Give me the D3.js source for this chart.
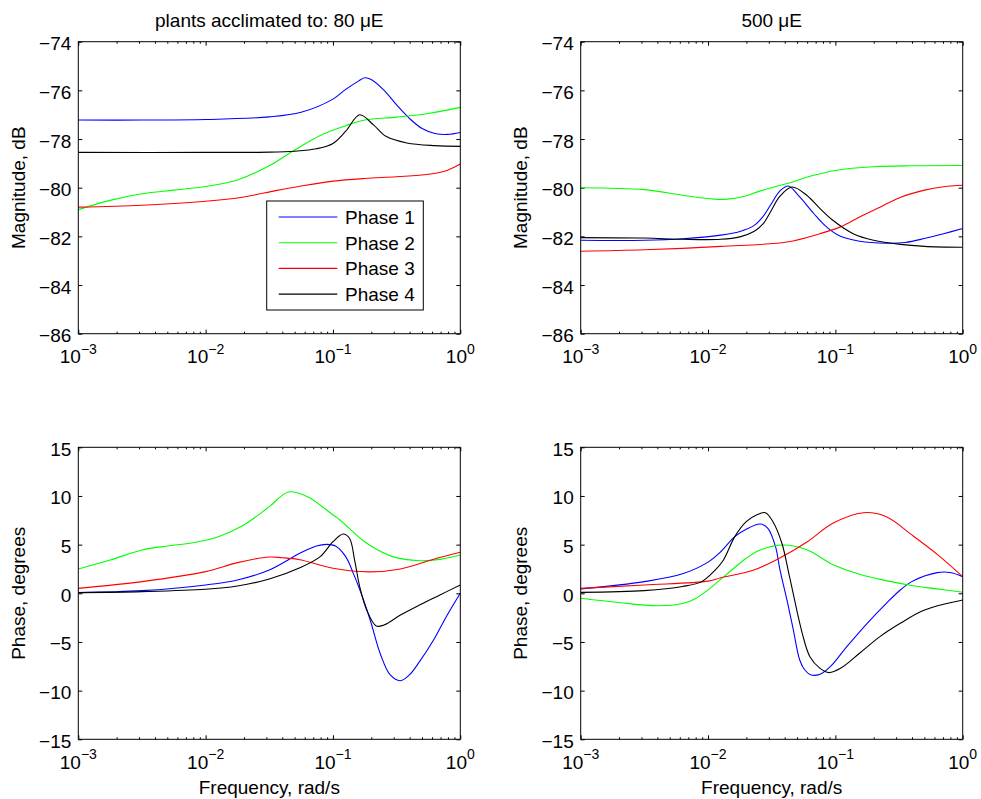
<!DOCTYPE html>
<html>
<head>
<meta charset="utf-8">
<script src="https://cdn.jsdelivr.net/npm/d3@7"></script>
<style>
  body { margin: 0; background: #fff; }
  text { font-family: "Liberation Sans", Arial, Helvetica, sans-serif; fill: #000; }
</style>
</head>
<body>
<script>
// Bode plots, two acclimation levels x four phases
// each point is [log10(frequency in rad/s), value]

var seriesNames = ["Phase 1", "Phase 2", "Phase 3", "Phase 4"];
var seriesColors = ["#0000ff", "#00ff00", "#ff0000", "#000000"];

var decadeExps = [-3, -2, -1, 0];
var magTicks = [-86, -84, -82, -80, -78, -76, -74];
var phaseTicks = [-15, -10, -5, 0, 5, 10, 15];

// magnitude, dB - 80 uE
var mag80P1 = [[-3,-77.22],[-2.5,-77.22],[-2,-77.2],[-1.5,-77.09],[-1.25,-76.9],[-1,-76.36],[-0.9,-75.96],[-0.8,-75.62],[-0.75,-75.48],[-0.7,-75.55],[-0.6,-75.99],[-0.5,-76.6],[-0.4,-77.15],[-0.3,-77.57],[-0.2,-77.77],[-0.1,-77.81],[0,-77.73]];
var mag80P2 = [[-3,-80.9],[-2.75,-80.52],[-2.5,-80.25],[-2.25,-80.1],[-2,-79.95],[-1.75,-79.68],[-1.5,-79.1],[-1.3,-78.45],[-1.1,-77.85],[-0.9,-77.45],[-0.75,-77.22],[-0.5,-77.1],[-0.25,-76.95],[0,-76.7]];
var mag80P3 = [[-3,-80.8],[-2.5,-80.72],[-2,-80.56],[-1.7,-80.38],[-1.45,-80.12],[-1.25,-79.93],[-1,-79.73],[-0.75,-79.62],[-0.5,-79.55],[-0.25,-79.45],[-0.1,-79.28],[0,-79.03]];
var mag80P4 = [[-3,-78.55],[-2,-78.55],[-1.5,-78.54],[-1.3,-78.5],[-1.13,-78.4],[-1,-78.18],[-0.9,-77.68],[-0.79,-77.0],[-0.68,-77.43],[-0.58,-77.9],[-0.42,-78.16],[-0.2,-78.27],[0,-78.3]];

// magnitude, dB - 500 uE
var mag500P1 = [[-3,-82.16],[-2.5,-82.16],[-2.2,-82.1],[-1.9,-81.95],[-1.75,-81.8],[-1.64,-81.56],[-1.57,-81.2],[-1.51,-80.72],[-1.435,-80.13],[-1.37,-79.93],[-1.28,-80.38],[-1.17,-81.06],[-1.07,-81.61],[-0.96,-82.0],[-0.81,-82.2],[-0.6,-82.28],[-0.45,-82.25],[-0.3,-82.09],[-0.15,-81.89],[0,-81.68]];
var mag500P2 = [[-3,-80.0],[-2.5,-80.08],[-2.2,-80.31],[-1.95,-80.47],[-1.85,-80.47],[-1.72,-80.36],[-1.6,-80.15],[-1.38,-79.83],[-1.17,-79.49],[-0.99,-79.28],[-0.7,-79.14],[-0.4,-79.1],[0,-79.09]];
var mag500P3 = [[-3,-82.61],[-2.5,-82.55],[-1.9,-82.41],[-1.38,-82.23],[-1.12,-81.89],[-0.96,-81.61],[-0.81,-81.2],[-0.65,-80.8],[-0.49,-80.4],[-0.3,-80.1],[-0.15,-79.96],[0,-79.9]];
var mag500P4 = [[-3,-82.05],[-2.5,-82.07],[-2.2,-82.12],[-1.9,-82.12],[-1.75,-82.02],[-1.64,-81.8],[-1.57,-81.5],[-1.51,-81.0],[-1.435,-80.35],[-1.34,-79.97],[-1.225,-80.31],[-1.12,-80.86],[-1.02,-81.34],[-0.86,-81.89],[-0.7,-82.16],[-0.49,-82.33],[-0.3,-82.41],[0,-82.45]];

// phase, degrees - 80 uE
var ph80P1 = [[-3,0.07],[-2.5,0.27],[-2,0.86],[-1.75,1.37],[-1.5,2.4],[-1.26,4.11],[-1.13,4.86],[-1.05,5.03],[-0.98,4.86],[-0.9,3.77],[-0.84,2.05],[-0.76,-0.69],[-0.7,-3.08],[-0.63,-6.16],[-0.55,-8.39],[-0.47,-8.98],[-0.4,-8.39],[-0.32,-7.02],[-0.21,-4.8],[-0.11,-2.4],[0,0]];
var ph80P2 = [[-3,2.5],[-2.75,3.42],[-2.5,4.45],[-2.3,4.86],[-2.1,5.2],[-1.9,5.82],[-1.7,7.02],[-1.5,8.9],[-1.35,10.41],[-1.2,9.93],[-1,8.05],[-0.945,7.53],[-0.735,5.14],[-0.53,3.77],[-0.32,3.35],[-0.16,3.49],[0,3.94]];
var ph80P3 = [[-3,0.51],[-2.5,1.2],[-2,2.23],[-1.75,3.15],[-1.5,3.73],[-1.4,3.66],[-1.26,3.45],[-1,2.57],[-0.72,2.2],[-0.47,2.5],[-0.21,3.49],[0,4.21]];
var ph80P4 = [[-3,0.07],[-2.5,0.17],[-2,0.41],[-1.75,0.75],[-1.5,1.47],[-1.26,2.63],[-1.1,3.77],[-1,5.3],[-0.92,6.09],[-0.87,5.65],[-0.83,3.42],[-0.79,0.69],[-0.735,-1.71],[-0.66,-3.36],[-0.6,-3.26],[-0.47,-2.23],[-0.32,-1.2],[-0.16,-0.17],[0,0.86]];

// phase, degrees - 500 uE
var ph500P1 = [[-3,0.45],[-2.5,1.2],[-2.2,2.0],[-2,3.2],[-1.9,4.27],[-1.79,5.82],[-1.7,6.58],[-1.59,7.12],[-1.53,6.68],[-1.47,4.79],[-1.435,2.4],[-1.38,-0.69],[-1.33,-3.77],[-1.28,-6.85],[-1.24,-7.88],[-1.19,-8.39],[-1.12,-8.32],[-1.04,-7.54],[-0.91,-5.48],[-0.75,-3.08],[-0.6,-1.03],[-0.49,0.34],[-0.4,1.2],[-0.2,2.12],[-0.1,2.14],[0,1.71]];
var ph500P2 = [[-3,-0.51],[-2.7,-0.95],[-2.4,-1.28],[-2.2,-1.05],[-2.1,-0.55],[-2,0.35],[-1.9,1.45],[-1.8,2.55],[-1.7,3.6],[-1.6,4.4],[-1.41,4.96],[-1.22,4.45],[-1.02,2.95],[-0.81,1.95],[-0.6,1.3],[-0.4,0.8],[-0.2,0.45],[0,0.1]];
var ph500P3 = [[-3,0.51],[-2.5,0.86],[-2,1.25],[-1.9,1.6],[-1.64,2.4],[-1.44,3.6],[-1.22,5.3],[-1.02,7.19],[-0.78,8.28],[-0.6,7.87],[-0.4,6.0],[-0.2,4.0],[0,1.71]];
var ph500P4 = [[-3,0.1],[-2.5,0.27],[-2.2,0.7],[-2.05,1.2],[-1.95,2.3],[-1.88,3.4],[-1.79,5.82],[-1.7,7.36],[-1.62,8.04],[-1.55,8.28],[-1.49,7.36],[-1.42,5.14],[-1.36,1.71],[-1.26,-4.11],[-1.2,-6.51],[-1.12,-7.71],[-1.05,-8.15],[-0.96,-7.71],[-0.81,-6.16],[-0.65,-4.45],[-0.49,-3.08],[-0.3,-1.71],[0,-0.68]];

// Layout
var W = 382, H = 292;
var panels = [
  {x: 78.3,  y: 41.7,  series: [mag80P1, mag80P2, mag80P3, mag80P4], domain: [-86, -74], ticks: magTicks,
   ylabel: "Magnitude, dB", title: "plants acclimated to: 80 \u03BCE", legend: true},
  {x: 580.7, y: 41.7,  series: [mag500P1, mag500P2, mag500P3, mag500P4], domain: [-86, -74], ticks: magTicks,
   ylabel: "Magnitude, dB", title: "500 \u03BCE"},
  {x: 78.3,  y: 447.3, series: [ph80P1, ph80P2, ph80P3, ph80P4], domain: [-15, 15], ticks: phaseTicks,
   ylabel: "Phase, degrees", xlabel: "Frequency, rad/s"},
  {x: 580.7, y: 447.3, series: [ph500P1, ph500P2, ph500P3, ph500P4], domain: [-15, 15], ticks: phaseTicks,
   ylabel: "Phase, degrees", xlabel: "Frequency, rad/s"}
];

var svg = d3.select('body').append('svg')
  .attr('width', 981)
  .attr('height', 799);

var decades = decadeExps.map(function(e){ return Math.pow(10, e); });
var minors = [];
decadeExps.slice(0, 3).forEach(function(e){
  for (var m = 2; m <= 9; m++) minors.push(m * Math.pow(10, e));
});

function minus(v) {
  return v < 0 ? '\u2212' + Math.abs(v) : String(v);
}

function noDomain(sel) { sel.select('.domain').remove(); }

panels.forEach(function(p, pi){
  var g = svg.append('g').attr('transform', 'translate(' + p.x + ',' + p.y + ')');

  var x = d3.scaleLog().domain([1e-3, 1]).range([0, W]);
  var y = d3.scaleLinear().domain(p.domain).range([H, 0]);

  // clip for the curves
  g.append('clipPath').attr('id', 'clip' + pi)
    .append('rect').attr('width', W).attr('height', H);

  // ticks on all four sides, pointing inwards
  g.append('g').attr('transform', 'translate(0,' + H + ')')
    .call(d3.axisBottom(x).tickValues(decades).tickSize(-4).tickFormat(''))
    .call(noDomain);
  g.append('g').attr('transform', 'translate(0,' + H + ')')
    .call(d3.axisBottom(x).tickValues(minors).tickSize(-2).tickFormat(''))
    .call(noDomain);
  g.append('g')
    .call(d3.axisTop(x).tickValues(decades).tickSize(-4).tickFormat(''))
    .call(noDomain);
  g.append('g')
    .call(d3.axisTop(x).tickValues(minors).tickSize(-2).tickFormat(''))
    .call(noDomain);

  var yAxis = g.append('g')
    .call(d3.axisLeft(y).tickValues(p.ticks).tickSize(-4).tickPadding(7).tickFormat(minus))
    .call(noDomain);
  yAxis.selectAll('text')
    .attr('dy', '0.42em')
    .style('font-size', '19px')
    .style('font-family', '"Liberation Sans", Arial, sans-serif');
  g.append('g').attr('transform', 'translate(' + W + ',0)')
    .call(d3.axisRight(y).tickValues(p.ticks).tickSize(-4).tickFormat(''))
    .call(noDomain);

  g.selectAll('.tick line').attr('stroke', '#000').attr('stroke-width', 1);

  // x tick labels with superscript exponents
  var xl = g.selectAll('.xlab').data(decadeExps).enter().append('text')
    .attr('class', 'xlab')
    .attr('x', function(e){ return x(Math.pow(10, e)); })
    .attr('y', H + 29.4)
    .attr('text-anchor', 'middle')
    .style('font-size', '19px');
  xl.append('tspan').text('10');
  xl.append('tspan')
    .attr('dy', -9.4)
    .style('font-size', '14px')
    .text(function(e){ return minus(e); });

  // curves
  var line = d3.line()
    .x(function(d){ return x(Math.pow(10, d[0])); })
    .y(function(d){ return y(d[1]); })
    .curve(d3.curveCatmullRom.alpha(0.5));

  g.append('g').attr('clip-path', 'url(#clip' + pi + ')')
    .selectAll('path').data(p.series).enter().append('path')
      .attr('d', line)
      .attr('fill', 'none')
      .attr('stroke', function(d, i){ return seriesColors[i]; })
      .attr('stroke-width', 1.1);

  // axes box
  g.append('rect')
    .attr('width', W).attr('height', H)
    .attr('fill', 'none')
    .attr('stroke', '#000')
    .attr('stroke-width', 1);

  // labels
  g.append('text')
    .attr('transform', 'translate(-53.8,' + (H / 2) + ') rotate(-90)')
    .attr('text-anchor', 'middle')
    .style('font-size', '19px')
    .text(p.ylabel);

  if (p.title) {
    g.append('text')
      .attr('x', W / 2).attr('y', -15.2)
      .attr('text-anchor', 'middle')
      .style('font-size', '19px')
      .text(p.title);
  }

  if (p.xlabel) {
    g.append('text')
      .attr('x', W / 2).attr('y', H + 54.3)
      .attr('text-anchor', 'middle')
      .style('font-size', '19px')
      .text(p.xlabel);
  }

  // legend
  if (p.legend) {
    var lg = g.append('g').attr('transform', 'translate(188.4,159.3)');
    lg.append('rect')
      .attr('width', 156.6).attr('height', 109)
      .attr('fill', '#fff')
      .attr('stroke', '#000')
      .attr('stroke-width', 1);
    var row = lg.selectAll('.row').data(seriesNames).enter().append('g')
      .attr('class', 'row')
      .attr('transform', function(d, i){ return 'translate(0,' + (16 + i * 25.7) + ')'; });
    row.append('line')
      .attr('x1', 12).attr('x2', 70.6)
      .attr('stroke', function(d, i){ return seriesColors[i]; })
      .attr('stroke-width', 1.1);
    row.append('text')
      .attr('x', 78.3).attr('dy', 7)
      .style('font-size', '19px')
      .text(function(d){ return d; });
  }
});
</script>
</body>
</html>
